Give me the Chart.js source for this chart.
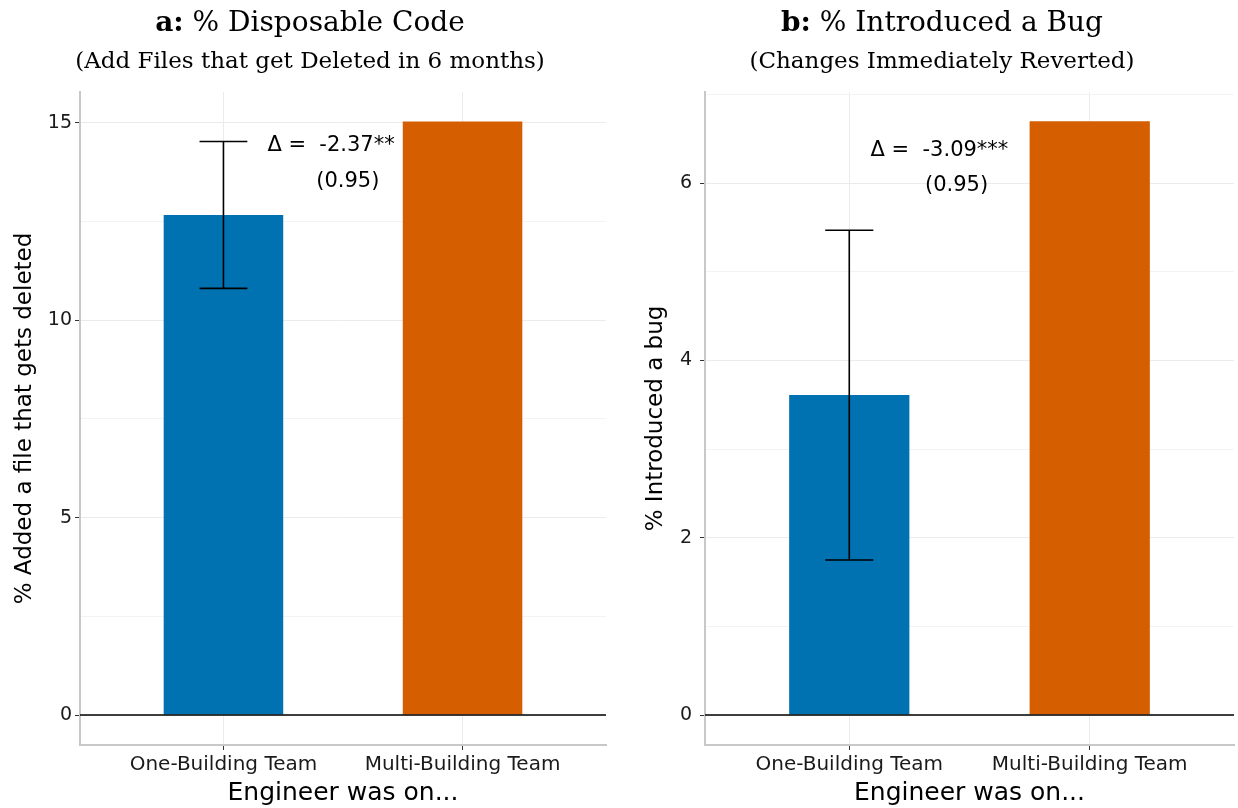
<!DOCTYPE html>
<html>
<head>
<meta charset="utf-8">
<title>Disposable code and bugs by team type</title>
<script src="https://cdn.jsdelivr.net/npm/chart.js@4/dist/chart.umd.min.js"></script>
<style>
  body { margin: 0; background: #fff; }
  #wrap { display: flex; width: 1238px; height: 808px; }
  canvas { display: block; }
</style>
</head>
<body>
<div id="wrap">
  <canvas id="chartA" width="619" height="808"></canvas>
  <canvas id="chartB" width="619" height="808"></canvas>
</div>
<script>
// categories (positions on the x axis)
const teams = ['One-Building Team', 'Multi-Building Team'];
const teamPos = [1, 2];
const barColors = ['#0072B2', '#D55E00'];

// panel a: % disposable code
const disposableShare = [12.67, 15.04];
const disposableLow = [10.81, null];
const disposableHigh = [14.53, null];
const disposableMajor = [0, 5, 10, 15];
const disposableMinor = [2.5, 7.5, 12.5];
const disposableNote = ['\u0394 =  -2.37**', '(0.95)'];

// panel b: % introduced a bug
const bugShare = [3.61, 6.70];
const bugLow = [1.75, null];
const bugHigh = [5.47, null];
const bugMajor = [0, 2, 4, 6];
const bugMinor = [1, 3, 5, 7];
const bugNote = ['\u0394 =  -3.09***', '(0.95)'];

const SANS = '"DejaVu Sans", "Liberation Sans", Arial, sans-serif';
const SERIF = '"DejaVu Serif", "Liberation Serif", serif';

// titles, zero line, error bars and the difference label
const panelDecor = {
  id: 'panelDecor',
  afterDatasetsDraw(chart, args, opts) {
    const { ctx, chartArea } = chart;
    const x = chart.scales.x, y = chart.scales.y;
    ctx.save();

    const y0 = y.getPixelForValue(0);
    ctx.strokeStyle = '#000';
    ctx.lineWidth = 1.6;
    ctx.beginPath();
    ctx.moveTo(chartArea.left, y0);
    ctx.lineTo(chartArea.right, y0);
    ctx.stroke();

    opts.low.forEach((lo, i) => {
      const hi = opts.high[i];
      if (lo == null || hi == null) return;
      const xc = x.getPixelForValue(teamPos[i]);
      const xl = x.getPixelForValue(teamPos[i] - 0.1);
      const xr = x.getPixelForValue(teamPos[i] + 0.1);
      const yl = y.getPixelForValue(lo), yh = y.getPixelForValue(hi);
      ctx.beginPath();
      ctx.moveTo(xc, yl); ctx.lineTo(xc, yh);
      ctx.moveTo(xl, yl); ctx.lineTo(xr, yl);
      ctx.moveTo(xl, yh); ctx.lineTo(xr, yh);
      ctx.stroke();
    });

    ctx.fillStyle = '#000';
    ctx.font = '21px ' + SANS;
    ctx.textAlign = 'center';
    ctx.textBaseline = 'middle';
    opts.note.forEach((line, i) => {
      const at = opts.noteAt[i];
      ctx.fillText(line, x.getPixelForValue(at[0]), y.getPixelForValue(at[1]));
    });
    ctx.restore();
  },
  afterDraw(chart, args, opts) {
    const ctx = chart.ctx;
    ctx.save();
    ctx.fillStyle = '#000';
    ctx.textBaseline = 'alphabetic';
    ctx.textAlign = 'left';
    const boldFont = 'bold 28px ' + SERIF, plainFont = '28px ' + SERIF;
    ctx.font = boldFont;
    const wb = ctx.measureText(opts.tag).width;
    ctx.font = plainFont;
    const wp = ctx.measureText(opts.title).width;
    const left = opts.titleX - (wb + wp) / 2;
    ctx.font = boldFont;
    ctx.fillText(opts.tag, left, 31);
    ctx.font = plainFont;
    ctx.fillText(opts.title, left + wb, 31);

    ctx.textAlign = 'center';
    ctx.font = '23px ' + SERIF;
    ctx.fillText(opts.subtitle, opts.titleX, 68);
    ctx.restore();
  }
};

function makePanel(id, p) {
  const ticks = p.major.concat(p.minor).sort((a, b) => a - b);
  const isMajor = v => p.major.includes(v);
  return new Chart(document.getElementById(id), {
    type: 'bar',
    data: {
      datasets: [{
        data: teamPos.map((v, i) => ({ x: v, y: p.values[i] })),
        backgroundColor: barColors,
        categoryPercentage: 1,
        barPercentage: 0.5
      }]
    },
    options: {
      responsive: false,
      animation: false,
      layout: { padding: { left: 0, right: p.padRight, top: 92, bottom: 0 } },
      plugins: {
        legend: { display: false },
        tooltip: { enabled: false },
        panelDecor: {
          tag: p.tag, title: p.title, subtitle: p.subtitle, titleX: p.titleX,
          low: p.low, high: p.high, note: p.note, noteAt: p.noteAt
        }
      },
      scales: {
        x: {
          type: 'linear',
          min: 0.4,
          max: 2.6,
          offset: false,
          afterBuildTicks: s => { s.ticks = teamPos.map(v => ({ value: v })); },
          afterFit: s => { s.height = 63; },
          ticks: {
            callback: v => teams[teamPos.indexOf(v)],
            font: { family: SANS, size: 20 },
            color: '#1a1a1a',
            padding: 3,
            maxRotation: 0,
            autoSkip: false
          },
          grid: { offset: false, color: '#ebebeb', lineWidth: 1, tickColor: '#333', tickLength: 5 },
          border: { color: '#c8c8c8', width: 2 },
          title: {
            display: true,
            text: 'Engineer was on...',
            font: { family: SANS, size: 25 },
            color: '#000',
            padding: 0
          }
        },
        y: {
          min: p.min,
          max: p.max,
          afterBuildTicks: s => { s.ticks = ticks.map(v => ({ value: v })); },
          afterFit: s => { s.width = p.axisWidth; },
          ticks: {
            callback: v => isMajor(v) ? String(v) : '',
            font: { family: SANS, size: 19 },
            color: '#1a1a1a',
            padding: p.tickPad
          },
          grid: {
            color: c => isMajor(c.tick.value) ? '#ebebeb' : '#f3f3f3',
            lineWidth: 1,
            tickColor: c => isMajor(c.tick.value) ? '#333' : 'rgba(0,0,0,0)',
            tickLength: 5
          },
          border: { color: '#c8c8c8', width: 2 },
          title: {
            display: true,
            text: p.yTitle,
            font: { family: SANS, size: 23 },
            color: '#000',
            padding: { top: p.titlePad, bottom: 0 }
          }
        }
      }
    },
    plugins: [panelDecor]
  });
}

makePanel('chartA', {
  tag: 'a:', title: ' % Disposable Code',
  subtitle: '(Add Files that get Deleted in 6 months)',
  titleX: 310,
  values: disposableShare, low: disposableLow, high: disposableHigh,
  major: disposableMajor, minor: disposableMinor,
  min: -0.76, max: 15.785,
  note: disposableNote, noteAt: [[1.45, 14.44], [1.52, 13.52]],
  yTitle: '% Added a file that gets deleted',
  axisWidth: 80, padRight: 13, tickPad: 3, titlePad: 11
});

makePanel('chartB', {
  tag: 'b:', title: ' % Introduced a Bug',
  subtitle: '(Changes Immediately Reverted)',
  titleX: 323,
  values: bugShare, low: bugLow, high: bugHigh,
  major: bugMajor, minor: bugMinor,
  min: -0.338, max: 7.03,
  note: bugNote, noteAt: [[1.375, 6.37], [1.446, 5.98]],
  yTitle: '% Introduced a bug',
  axisWidth: 86, padRight: 4, tickPad: 8, titlePad: 23
});
</script>
</body>
</html>
